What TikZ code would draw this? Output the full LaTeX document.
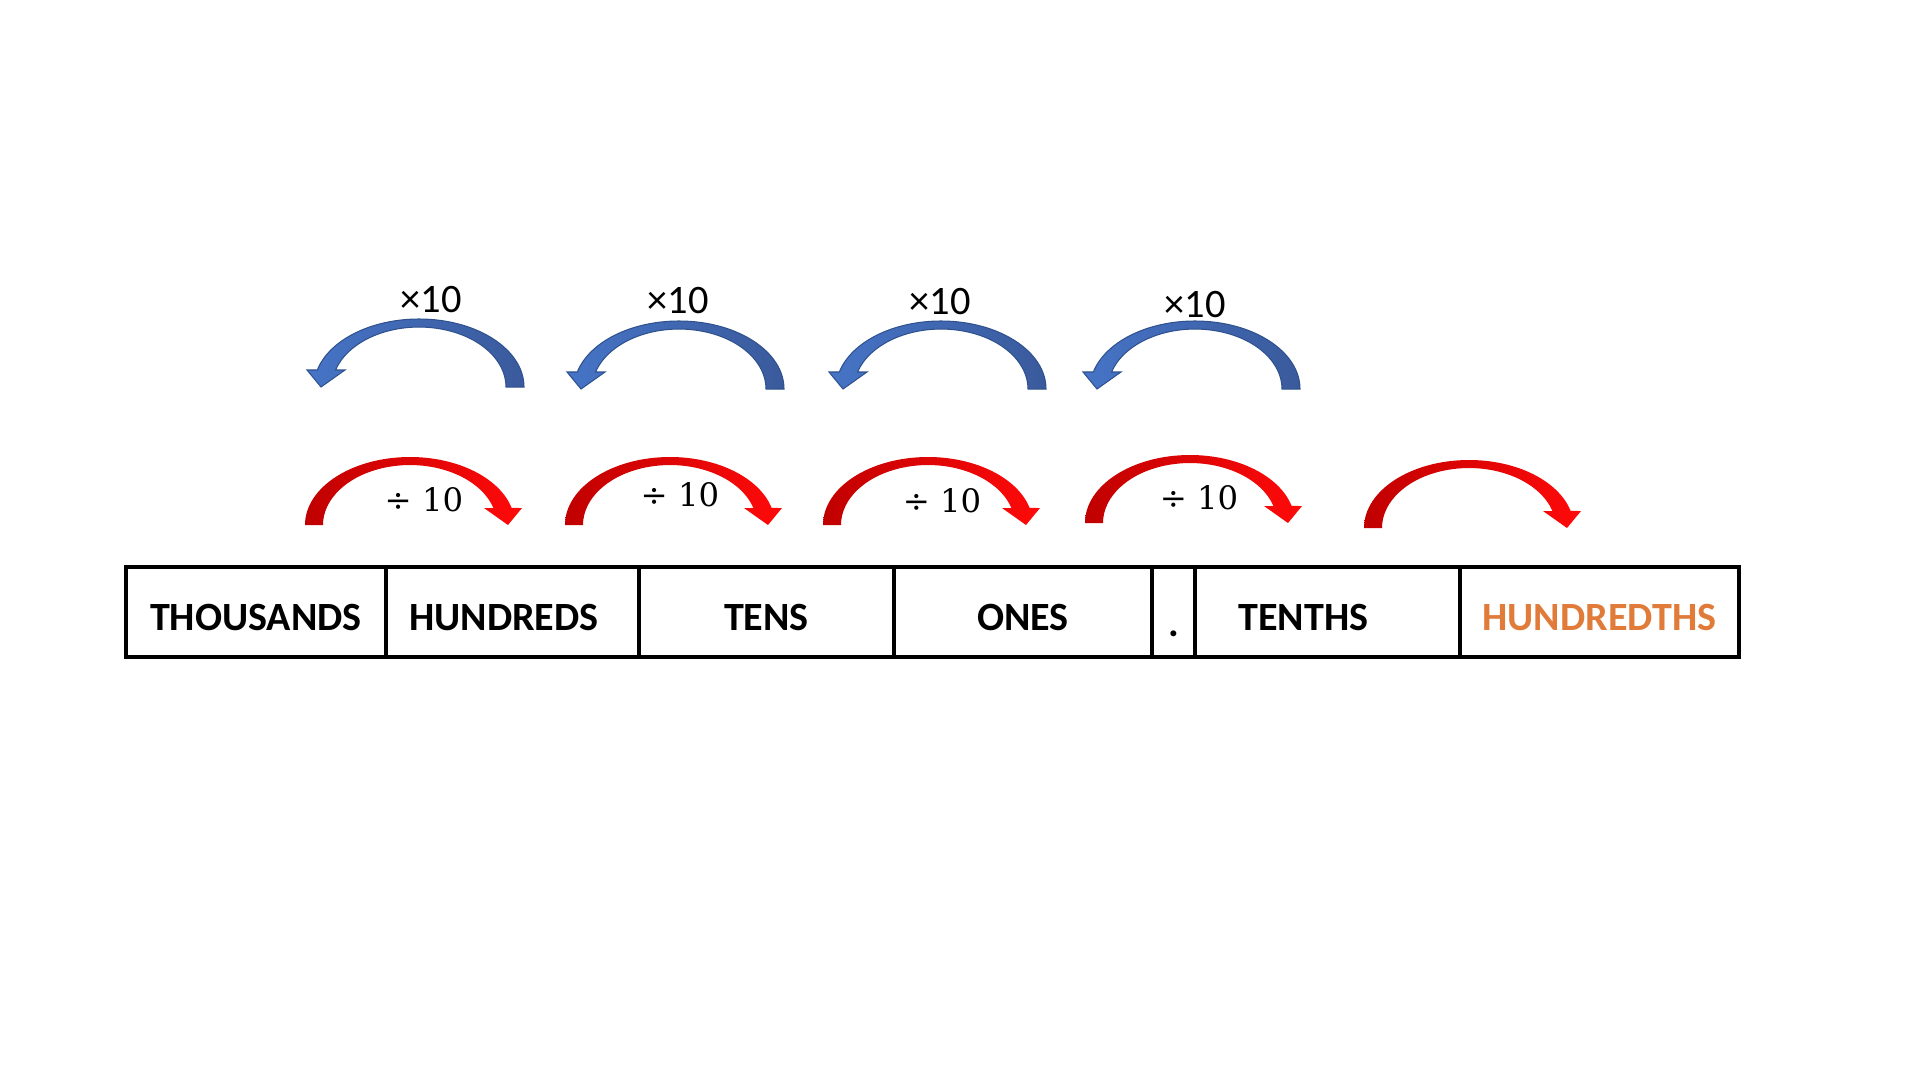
\documentclass[tikz,border=0pt]{standalone}
\usepackage{fontspec}
\usepackage{xcolor}
\usepackage{tikz}
\usetikzlibrary{positioning}
\newfontfamily\calibri{Carlito}
\newfontfamily\cambria{DejaVu Serif}
\definecolor{mulblue}{HTML}{4674C6}
\definecolor{muldark}{HTML}{3A5A9C}
\definecolor{muledge}{HTML}{2F528F}
\definecolor{divdark}{HTML}{C00000}
\definecolor{divlight}{HTML}{FF0A0A}
\definecolor{placeorange}{HTML}{E07B39}

\begin{document}
\begin{tikzpicture}[
        x=0.1mm, y=0.1mm,
        cell/.style={rectangle, draw, line width=0.45mm, minimum height=9mm, inner sep=0pt, text height=3.6mm, text depth=0pt, font=\calibri\bfseries\fontsize{11.4}{13}\selectfont},
        times/.style={inner sep=1pt, font=\calibri\fontsize{11.5}{13}\selectfont},
        divide/.style={inner sep=1pt, font=\cambria\fontsize{9.2}{11}\selectfont},
        mulfill/.style={left color=mulblue, right color=muldark, draw=muledge, line width=0.3pt},
        divfill/.style={left color=divdark, right color=divlight},
        bend/.pic={\path[#1] (-105,0) arc[start angle=180, end angle=14.5, x radius=105, y radius=68] -- (112,17) -- (98,0) -- (74,17) -- (83.4,17) arc[start angle=16.5, end angle=180, x radius=87, y radius=60] -- cycle;},
    ]
        \useasboundingbox (0,0) rectangle (1920,1080);

        % Place value table
        \node[cell, minimum width=26mm] (thousands) at (256,468) {THOUSANDS};
        \node[cell, minimum width=25.3mm] (hundreds) at (512.5,468) {HUNDREDS\hspace*{1.7mm}};
        \node[cell, minimum width=25.5mm] (tens) at (766.5,468) {TENS};
        \node[cell, minimum width=25.8mm] (ones) at (1023,468) {ONES};
        \node[cell, minimum width=4.3mm] (point) at (1173.5,468) {\raisebox{-0.6mm}{.}};
        \node[cell, minimum width=26.5mm] (tenths) at (1327.5,468) {TENTHS\hspace*{4.8mm}};
        \node[cell, minimum width=27.9mm, text=placeorange] (hundredths) at (1599.5,468) {HUNDREDTHS};

        % Multiply arrows
        \pic[xscale=-1] at (419,693) {bend=mulfill};
        \pic[xscale=-1] at (679,691) {bend=mulfill};
        \pic[xscale=-1] at (941,691) {bend=mulfill};
        \pic[xscale=-1] at (1195,691) {bend=mulfill};
        \node[times] (mul1) at (431,780) {×10};
        \node[times] (mul2) at (678,779) {×10};
        \node[times] (mul3) at (940,778) {×10};
        \node[times] (mul4) at (1195,775) {×10};

        % Divide arrows
        \pic at (410,555) {bend=divfill};
        \pic at (670,555) {bend=divfill};
        \pic at (928,555) {bend=divfill};
        \pic at (1190,557) {bend=divfill};
        \pic at (1469,552) {bend=divfill};
        \node[divide] (div1) at (424,580) {÷ 10};
        \node[divide] (div2) at (680,585) {÷ 10};
        \node[divide] (div3) at (942,579) {÷ 10};
        \node[divide] (div4) at (1199,582) {÷ 10};
    \end{tikzpicture}
\end{document}
